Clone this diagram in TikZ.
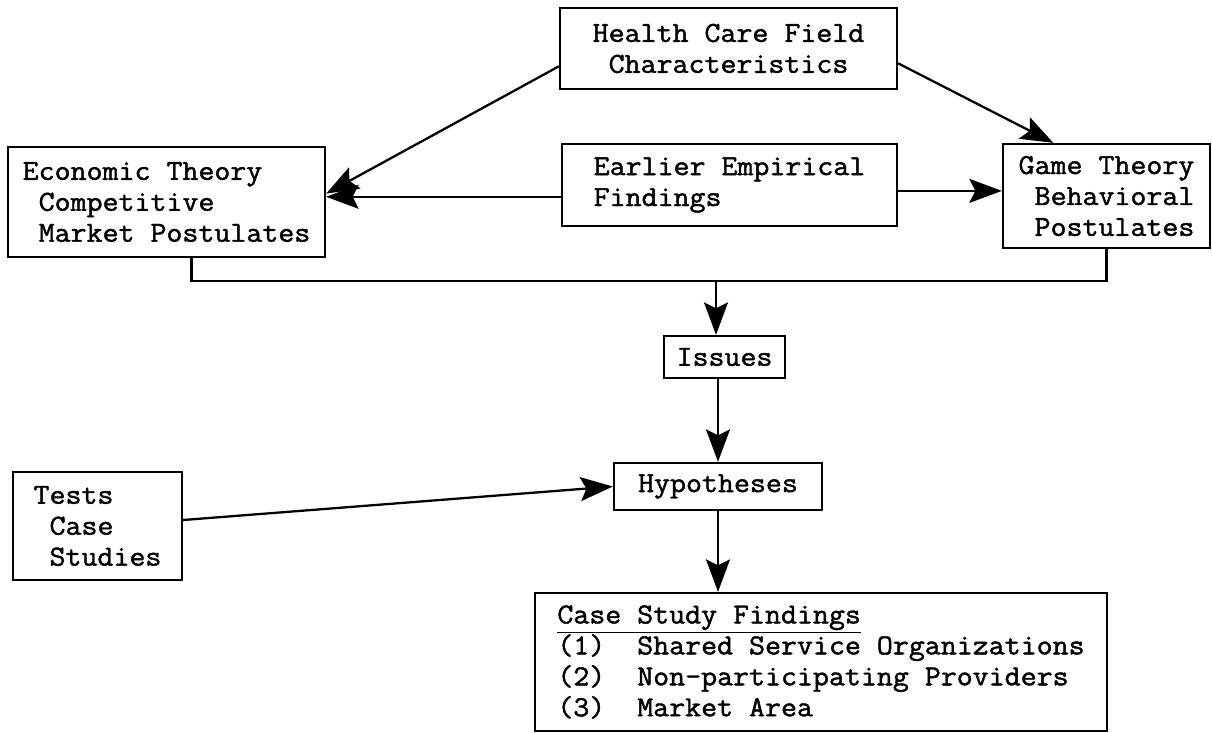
\documentclass[tikz,border=0pt]{standalone}
\usepackage{fontspec}
\newfontfamily\typewr{Latin Modern Mono}[FakeStretch=1.07,FakeBold=1.5]
\usetikzlibrary{arrows.meta}

\begin{document}
\begin{tikzpicture}[x=.2mm,y=-.2mm,
		caja/.style={draw,line width=1.3pt,inner sep=0pt,align=left,font=\typewr\fontsize{16.5}{17.6}\selectfont},
		flecha/.style={->,line width=1.3pt},
		>={Stealth[length=6.5mm,width=4.8mm,inset=1.2mm]}]
	\useasboundingbox (0,0) rectangle (1212,733);

	% Cajas
	\node[caja,minimum width=6.74cm,minimum height=1.62cm] (hcf) at (728.5,48.5) {Health Care Field\\~Characteristics};
	\node[caja,minimum width=6.34cm,minimum height=2.2cm] (eco) at (166.5,202) {Economic Theory\\~Competitive\\~Market Postulates};
	\node[caja,minimum width=6.7cm,minimum height=1.64cm] (emp) at (729.5,185) {Earlier Empirical\\Findings};
	\node[caja,minimum width=4.14cm,minimum height=2.08cm] (game) at (1106.5,196) {Game Theory\\~Behavioral\\~Postulates};
	\node[caja,minimum width=2.42cm,minimum height=.84cm] (iss) at (724.5,357) {Issues};
	\node[caja,minimum width=4.16cm,minimum height=.94cm] (hyp) at (718,486.5) {Hypotheses};
	\node[caja,minimum width=3.38cm,minimum height=2.16cm] (tests) at (97.5,526) {Tests\\~Case\\~Studies};
	\node[caja,minimum width=11.44cm,minimum height=2.76cm] (case) at (821,662) {\underline{Case Study Findings}\\(1)~~Shared Service Organizations\\(2)~~Non-participating Providers\\(3)~~Market Area};

	% Flechas de arriba
	\draw[flecha] (hcf.186) -- (eco.3);
	\draw[flecha] (emp.184) -- (emp.184 -| eco.east);
	\draw[flecha] (hcf.-5) -- (game.135);
	\draw[flecha] (emp.-2) -- (emp.-2 -| game.west);

	% Union hacia Issues
	\coordinate (jn) at (716,281);
	\draw[line width=1.3pt] (eco.-66) |- (jn) -| (game.south);
	\draw[flecha] (jn) -- (jn |- iss.north);

	% Hacia abajo
	\draw[flecha] (hyp.north |- iss.south) -- (hyp.north);
	\draw[flecha] (tests.4) -- (hyp.west);
	\draw[flecha] (hyp.south) -- (hyp.south |- case.north);

\end{tikzpicture}
\end{document}
